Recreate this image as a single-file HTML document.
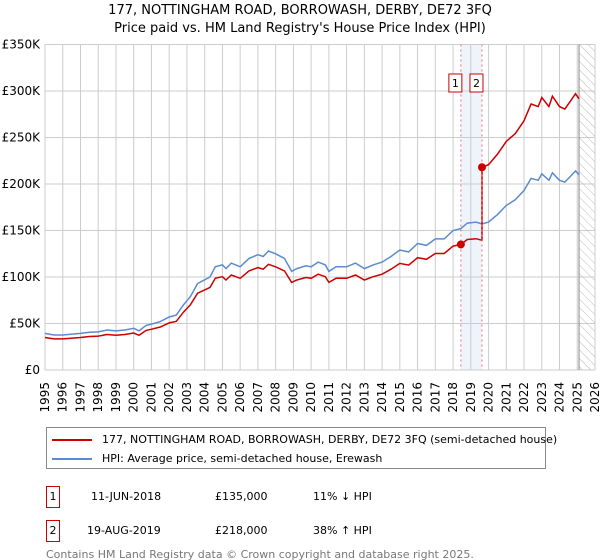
<!DOCTYPE html>
<html><head><meta charset="utf-8">
<style>
body{margin:0;background:#fff;font-family:"DejaVu Sans","Liberation Sans",sans-serif;}
#wrap{position:relative;width:600px;height:560px;overflow:hidden;}
svg text{font-family:"DejaVu Sans","Liberation Sans",sans-serif;}
</style></head><body>
<div id="wrap">
<svg id="chart" width="600" height="560">
<defs>
<pattern id="hatch" width="6" height="6" patternUnits="userSpaceOnUse" patternTransform="rotate(-45)">
<line x1="0" y1="0" x2="0" y2="6" stroke="#bbb" stroke-width="1"/>
</pattern>
</defs>
<text x="300" y="14" text-anchor="middle" font-size="13">177, NOTTINGHAM ROAD, BORROWASH, DERBY, DE72 3FQ</text>
<text x="300" y="32" text-anchor="middle" font-size="13">Price paid vs. HM Land Registry's House Price Index (HPI)</text>
<g id="grid"></g>
<g id="marks"></g>
<g id="axes"></g>
</svg>
<div style="position:absolute;left:46px;top:427px;width:498px;height:40px;border:1px solid #888;font-size:11px;">
 <div style="position:absolute;left:5px;top:5px;white-space:nowrap;"><span style="display:inline-block;width:40px;height:2px;background:#cc0000;vertical-align:middle;margin-right:10px;"></span>177, NOTTINGHAM ROAD, BORROWASH, DERBY, DE72 3FQ (semi-detached house)</div>
 <div style="position:absolute;left:5px;top:24px;white-space:nowrap;"><span style="display:inline-block;width:40px;height:2px;background:#5b8bd0;vertical-align:middle;margin-right:10px;"></span>HPI: Average price, semi-detached house, Erewash</div>
</div>
<div style="font-size:11px;">
 <div style="position:absolute;left:46px;top:486px;width:12px;height:20px;border:1px solid #cc0000;text-align:center;line-height:20px;">1</div>
 <div style="position:absolute;left:91px;top:490px;">11-JUN-2018</div>
 <div style="position:absolute;left:215px;top:490px;">£135,000</div>
 <div style="position:absolute;left:313px;top:490px;">11% ↓ HPI</div>
 <div style="position:absolute;left:46px;top:520px;width:12px;height:20px;border:1px solid #cc0000;text-align:center;line-height:20px;">2</div>
 <div style="position:absolute;left:87px;top:524px;">19-AUG-2019</div>
 <div style="position:absolute;left:215px;top:524px;">£218,000</div>
 <div style="position:absolute;left:313px;top:524px;">38% ↑ HPI</div>
</div>
<div style="position:absolute;left:46px;top:549px;font-size:11px;color:#777;line-height:11px;">Contains HM Land Registry data © Crown copyright and database right 2025.<br>This data is licensed under the Open Government Licence v3.0.</div>
</div>
<script>
const hpiYears=[1995,1995.5,1996,1997,1997.5,1998,1998.5,1999,1999.5,2000,2000.3,2000.7,2001,2001.5,2002,2002.4,2002.8,2003.2,2003.6,2004,2004.3,2004.6,2005,2005.2,2005.5,2006,2006.5,2007,2007.3,2007.6,2008,2008.5,2008.9,2009.2,2009.7,2010,2010.4,2010.8,2011,2011.4,2012,2012.5,2013,2013.5,2014,2014.5,2015,2015.5,2016,2016.5,2017,2017.5,2018,2018.44,2018.8,2019.3,2019.63,2020,2020.5,2021,2021.5,2022,2022.4,2022.8,2023,2023.4,2023.6,2024,2024.3,2024.6,2024.9,2025.1];
const hpiValues=[39.4,37.6,37.6,39.4,40.5,41,43,42,43,44.8,42,48,49.4,52,57,59,70,79,93,97,100,111,113,109,115,111,120,124,122,128,125,120,106,109,112,111,116,113,106,111,111,115,109,113,116,122,129,127,136,134,141,141,150,152,158,159,157,159,167,177,183,193,206,204,211,204,212,204,202,208,214,210];
const saleYears=[2018.44,2019.63];
const salePrices=[135,218];
const saleLabels=["1","2"];
const yTicks=[0,50,100,150,200,250,300,350];
const yTickLabels=["£0","£50K","£100K","£150K","£200K","£250K","£300K","£350K"];
const xTicks=[1995,1996,1997,1998,1999,2000,2001,2002,2003,2004,2005,2006,2007,2008,2009,2010,2011,2012,2013,2014,2015,2016,2017,2018,2019,2020,2021,2022,2023,2024,2025,2026];
const dataEnd=2025.1;

const X0=45,X1=595,Y0=370,Y1=44.5;
const xs=y=>X0+(y-1995)/(2026-1995)*(X1-X0);
const ys=v=>Y0-v/350*(Y0-Y1);
const NS="http://www.w3.org/2000/svg";
function mk(tag,attrs,parent){const e=document.createElementNS(NS,tag);for(const k in attrs)e.setAttribute(k,attrs[k]);parent.appendChild(e);return e;}
const grid=document.getElementById('grid'),marks=document.getElementById('marks'),axes=document.getElementById('axes');

mk('rect',{x:xs(saleYears[0]),y:Y1,width:xs(saleYears[1])-xs(saleYears[0]),height:Y0-Y1,fill:'#eef3fc'},grid);
xTicks.forEach(t=>{const l=mk('line',{x1:xs(t),x2:xs(t),y1:Y1,y2:Y0,stroke:'#ccc'},grid);


const px=xs(t)+4,py=382;
const tx=mk('text',{x:px,y:py,'text-anchor':'end','font-size':'12',transform:'rotate(-90 '+px+' '+py+')'},axes);tx.textContent=t;

});
yTicks.forEach((t,i)=>{const l=mk('line',{x1:X0,x2:X1,y1:ys(t),y2:ys(t),stroke:'#ccc'},grid);


const tx=mk('text',{x:40,y:ys(t)+4,'text-anchor':'end','font-size':'12'},axes);tx.textContent=yTickLabels[i];

});
const hr=mk('rect',{x:xs(dataEnd),y:Y1,width:X1-xs(dataEnd),height:Y0-Y1,fill:'url(#hatch)'},grid);


mk('line',{x1:xs(dataEnd),x2:xs(dataEnd),y1:Y1,y2:Y0,stroke:'#888'},grid);

function hpiAt(y){for(let i=1;i<hpiYears.length;i++){if(y<=hpiYears[i]){const f=(y-hpiYears[i-1])/(hpiYears[i]-hpiYears[i-1]);return hpiValues[i-1]+f*(hpiValues[i]-hpiValues[i-1]);}}return hpiValues[hpiValues.length-1];}
let d=hpiYears.map((y,i)=>(i?'L':'M')+xs(y).toFixed(1)+','+ys(hpiValues[i]).toFixed(1)).join('');
const bl=mk('path',{d:d,fill:'none',stroke:'#5b8bd0','stroke-width':1.5},marks);


const r1=salePrices[0]/hpiAt(saleYears[0]),r2=salePrices[1]/hpiAt(saleYears[1]);
let pts=[];
hpiYears.forEach((y,i)=>{if(y<saleYears[1])pts.push([y,hpiValues[i]*r1]);});
pts.push([saleYears[1],hpiAt(saleYears[1])*r1]);
pts.push([saleYears[1],salePrices[1]]);
hpiYears.forEach((y,i)=>{if(y>saleYears[1])pts.push([y,hpiValues[i]*r2]);});
d=pts.map((p,i)=>(i?'L':'M')+xs(p[0]).toFixed(1)+','+ys(p[1]).toFixed(1)).join('');
const rl=mk('path',{d:d,fill:'none',stroke:'#cc0000','stroke-width':1.5},marks);


saleYears.forEach((y,i)=>{
const vl=mk('line',{x1:xs(y),x2:xs(y),y1:Y1,y2:Y0,stroke:'#f07070','stroke-dasharray':'2,3'},marks);


const c=mk('circle',{cx:xs(y),cy:ys(salePrices[i]),r:4,fill:'#cc0000'},marks);


const bx=mk('rect',{x:xs(y)-12,y:74,width:13,height:18,fill:'#fff',stroke:'#cc0000'},marks);


const t=mk('text',{x:xs(y)-5.5,y:87,'text-anchor':'middle','font-size':'11'},marks);t.textContent=saleLabels[i];

});
</script>
</body></html>
